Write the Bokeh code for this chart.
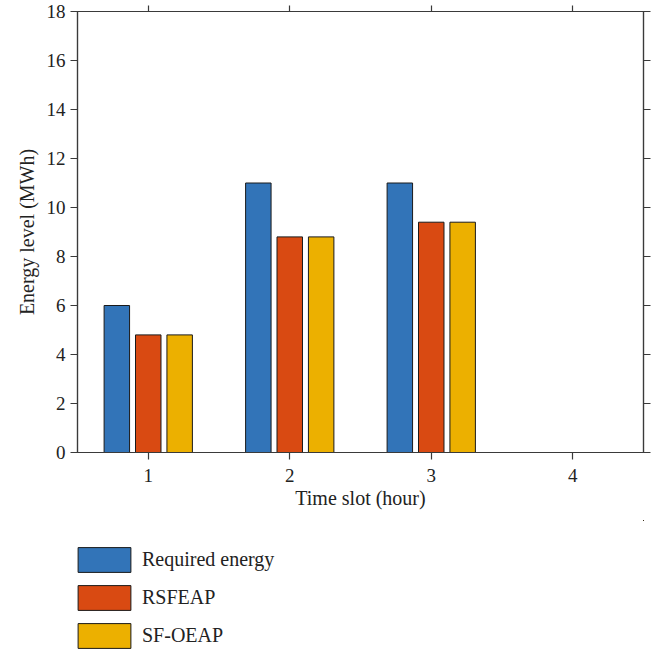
from bokeh.plotting import figure
from bokeh.layouts import column
from bokeh.models import (Range1d, FixedTicker, LinearAxis, Legend, LegendItem,
                          ColumnDataSource)
from bokeh.embed import file_html
from bokeh.resources import INLINE

# ---- data ----
time_slots = [1, 2, 3, 4]
required_energy = [6.0, 11.0, 11.0, 0.0]
rsfeap = [4.8, 8.8, 9.4, 0.0]
sf_oeap = [4.8, 8.8, 9.4, 0.0]
series_names = ["Required energy", "RSFEAP", "SF-OEAP"]
series_colors = ["#3274B8", "#D94A12", "#ECB000"]
y_ticks = [0, 2, 4, 6, 8, 10, 12, 14, 16, 18]

FONT = "Liberation Serif"
AX = "#3a3a3a"
EDGE = "#1a1a1a"

p = figure(width=661, height=520, output_backend="svg", toolbar_location=None,
           x_range=Range1d(0.5, 4.5), y_range=Range1d(0, 18),
           min_border_left=77, min_border_right=18, min_border_top=11,
           min_border_bottom=68)
p.grid.visible = False
p.outline_line_color = AX
p.outline_line_width = 1.2

offsets = [-0.222, 0.0, 0.222]
bar_w = 0.18
all_series = [required_energy, rsfeap, sf_oeap]
for vals, off, col in zip(all_series, offsets, series_colors):
    src = ColumnDataSource(dict(x=[t + off for t in time_slots], top=vals))
    p.vbar(x="x", top="top", width=bar_w, bottom=0, source=src,
           fill_color=col, line_color=EDGE, line_width=1)

def style_axis(ax, labels=True):
    ax.axis_line_color = AX
    ax.axis_line_width = 1.2
    ax.major_tick_line_color = AX
    ax.major_tick_line_width = 1.2
    ax.major_tick_out = 7
    ax.major_tick_in = 0
    ax.minor_tick_line_color = None
    ax.major_label_text_font = FONT
    ax.major_label_text_font_size = "19px"
    ax.major_label_text_color = "#222222"
    ax.axis_label_text_font = FONT
    ax.axis_label_text_font_size = "20px"
    ax.axis_label_text_font_style = "normal"
    ax.axis_label_text_color = "#222222"
    if not labels:
        ax.major_label_overrides = {t: "" for t in ax.ticker.ticks}
        ax.major_label_standoff = 0

xa = p.xaxis[0]
xa.ticker = FixedTicker(ticks=time_slots)
xa.axis_label = "Time slot (hour)"
style_axis(xa)
xa.major_label_standoff = 9
xa.axis_label_standoff = 2

ya = p.yaxis[0]
ya.ticker = FixedTicker(ticks=y_ticks)
ya.axis_label = "Energy level (MWh)"
style_axis(ya)
ya.major_label_standoff = 5
ya.axis_label_standoff = 6

top_ax = LinearAxis(ticker=FixedTicker(ticks=time_slots))
style_axis(top_ax, labels=False)
top_ax.major_tick_out = 6
p.add_layout(top_ax, "above")

right_ax = LinearAxis(ticker=FixedTicker(ticks=y_ticks))
style_axis(right_ax, labels=False)
p.add_layout(right_ax, "right")

# ---- legend panel below the chart (its series renderers lie outside its view) ----
lg = figure(width=661, height=136, output_backend="svg", toolbar_location=None,
            x_range=Range1d(-10, -9), y_range=Range1d(-10, -9),
            x_axis_location=None, y_axis_location=None,
            min_border_left=0, min_border_right=0, min_border_top=0,
            min_border_bottom=0)
lg.grid.visible = False
lg.outline_line_color = None
items = []
for name, vals, col in zip(series_names, all_series, series_colors):
    r = lg.vbar(x=time_slots, top=vals, width=bar_w, bottom=0,
                fill_color=col, line_color=EDGE, line_width=1)
    items.append(LegendItem(label=name, renderers=[r]))

legend = Legend(items=items, orientation="vertical", location=(-6, 5),
                glyph_width=66, glyph_height=31, spacing=7,
                label_text_font=FONT, label_text_font_size="20px",
                label_text_color="#222222", label_standoff=5,
                padding=0, margin=0, border_line_color=None,
                background_fill_alpha=0)
lg.add_layout(legend)

layout = column(p, lg, spacing=0)
open("out.html", "w").write(file_html(layout, INLINE))
